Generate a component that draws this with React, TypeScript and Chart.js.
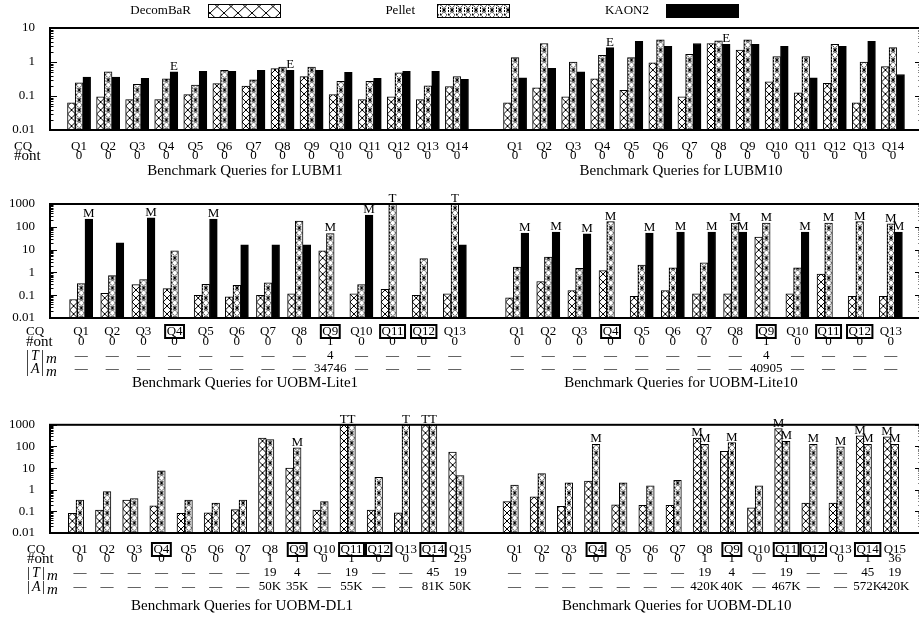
import React, { useEffect, useRef } from 'react';
import { Chart, registerables } from 'chart.js';
Chart.register(...registerables);

const FONT = '"Liberation Serif", "Times New Roman", serif';
const BAR_W = 7.7;

const seriesNames = ['DecomBaR', 'Pellet', 'KAON2'];

// ---------------- Row 1: LUBM1 | LUBM10 ----------------
const lubmQueries = ['Q1', 'Q2', 'Q3', 'Q4', 'Q5', 'Q6', 'Q7', 'Q8', 'Q9', 'Q10', 'Q11', 'Q12', 'Q13', 'Q14'];
const lubmOnt = ['0', '0', '0', '0', '0', '0', '0', '0', '0', '0', '0', '0', '0', '0'];
const lubm1DecomBaR = [0.063, 0.095, 0.079, 0.079, 0.11, 0.23, 0.195, 0.64, 0.37, 0.11, 0.079, 0.095, 0.079, 0.19];
const lubm1Pellet = [0.245, 0.51, 0.22, 0.32, 0.21, 0.57, 0.3, 0.71, 0.71, 0.27, 0.27, 0.48, 0.2, 0.37];
const lubm1Kaon2 = [0.36, 0.36, 0.33, 0.51, 0.53, 0.53, 0.57, 0.57, 0.57, 0.5, 0.33, 0.53, 0.53, 0.31];
const lubm10DecomBaR = [0.063, 0.175, 0.095, 0.32, 0.146, 0.95, 0.095, 3.5, 2.26, 0.26, 0.125, 0.235, 0.063, 0.73];
const lubm10Pellet = [1.34, 3.5, 1.0, 1.57, 1.34, 4.46, 1.68, 4.2, 4.46, 1.44, 1.44, 3.3, 1.0, 2.65];
const lubm10Kaon2 = [0.34, 0.65, 0.51, 2.65, 4.07, 2.9, 3.5, 3.3, 3.3, 2.9, 0.34, 2.9, 4.07, 0.43];
const lubmNoFlags = ['', '', '', '', '', '', '', '', '', '', '', '', '', ''];
const lubmKaon2Flags = ['', '', '', 'E', '', '', '', 'E', '', '', '', '', '', ''];

// ---------------- Row 2: UOBM-Lite1 | UOBM-Lite10 ----------------
const liteQueries = ['Q1', 'Q2', 'Q3', 'Q4', 'Q5', 'Q6', 'Q7', 'Q8', 'Q9', 'Q10', 'Q11', 'Q12', 'Q13'];
const liteBoxed = ['Q4', 'Q9', 'Q11', 'Q12'];
const liteOnt = ['0', '0', '0', '0', '0', '0', '0', '0', '1', '0', '0', '0', '0'];
const liteTm = ['—', '—', '—', '—', '—', '—', '—', '—', '4', '—', '—', '—', '—'];
const lite1Am = ['—', '—', '—', '—', '—', '—', '—', '—', '34746', '—', '—', '—', '—'];
const lite10Am = ['—', '—', '—', '—', '—', '—', '—', '—', '40905', '—', '—', '—', '—'];
const lite1DecomBaR = [0.065, 0.12, 0.29, 0.195, 0.098, 0.085, 0.098, 0.115, 8.9, 0.115, 0.18, 0.098, 0.115];
const lite1Pellet = [0.32, 0.72, 0.49, 8.9, 0.3, 0.27, 0.35, 180, 51, 0.29, 1000, 4, 1000];
const lite1Kaon2 = [220, 20, 245, null, 220, 16, 16, 16, null, 330, null, null, 16];
const lite1DecomBaRFlags = ['', '', '', '', '', '', '', '', '', '', '', '', ''];
const lite1PelletFlags = ['', '', '', '', '', '', '', '', 'M', '', 'T', '', 'T'];
const lite1Kaon2Flags = ['M', '', 'M', '', 'M', '', '', '', '', 'M', '', '', ''];
const lite10DecomBaR = [0.077, 0.4, 0.16, 1.2, 0.09, 0.16, 0.115, 0.115, 35, 0.115, 0.85, 0.09, 0.09];
const lite10Pellet = [1.7, 4.7, 1.5, 170, 2.1, 1.6, 2.6, 145, 145, 1.6, 145, 170, 135];
const lite10Kaon2 = [53, 58, 49, null, 53, 58, 58, 58, null, 58, null, null, 58];
const lite10DecomBaRFlags = ['', '', '', '', '', '', '', '', '', '', '', '', ''];
const lite10PelletFlags = ['', '', '', 'M', '', '', '', 'M', 'M', '', 'M', 'M', 'M'];
const lite10Kaon2Flags = ['M', 'M', 'M', '', 'M', 'M', 'M', 'M', '', 'M', '', '', 'M'];

// ---------------- Row 3: UOBM-DL1 | UOBM-DL10 ----------------
const dlQueries = ['Q1', 'Q2', 'Q3', 'Q4', 'Q5', 'Q6', 'Q7', 'Q8', 'Q9', 'Q10', 'Q11', 'Q12', 'Q13', 'Q14', 'Q15'];
const dlBoxed = ['Q4', 'Q9', 'Q11', 'Q12', 'Q14'];
const dl1Ont = ['0', '0', '0', '0', '0', '0', '0', '1', '1', '0', '1', '0', '0', '1', '29'];
const dl10Ont = ['0', '0', '0', '0', '0', '0', '0', '1', '1', '0', '1', '0', '0', '1', '36'];
const dlTm = ['—', '—', '—', '—', '—', '—', '—', '19', '4', '—', '19', '—', '—', '45', '19'];
const dl1Am = ['—', '—', '—', '—', '—', '—', '—', '50K', '35K', '—', '55K', '—', '—', '81K', '50K'];
const dl10Am = ['—', '—', '—', '—', '—', '—', '—', '420K', '40K', '—', '467K', '—', '—', '572K', '420K'];
const dl1DecomBaR = [0.081, 0.115, 0.33, 0.18, 0.081, 0.086, 0.12, 245, 10, 0.115, 1000, 0.115, 0.086, 1000, 55];
const dl1Pellet = [0.33, 0.81, 0.39, 7.4, 0.33, 0.24, 0.33, 208, 87, 0.28, 1000, 3.7, 1000, 1000, 4.5];
const dl1Kaon2 = [null, null, null, null, null, null, null, null, null, null, null, null, null, null, null];
const dl1DecomBaRFlags = ['', '', '', '', '', '', '', '', '', '', 'T', '', '', 'T', ''];
const dl1PelletFlags = ['', '', '', '', '', '', '', '', 'M', '', 'T', '', 'T', 'T', ''];
const dl10DecomBaR = [0.28, 0.47, 0.17, 2.5, 0.2, 0.19, 0.19, 245, 59, 0.145, 670, 0.24, 0.24, 310, 280];
const dl10Pellet = [1.65, 5.6, 2.1, 126, 2.1, 1.5, 2.7, 126, 150, 1.5, 170, 126, 97, 126, 126];
const dl10Kaon2 = [null, null, null, null, null, null, null, null, null, null, null, null, null, null, null];
const dl10DecomBaRFlags = ['', '', '', '', '', '', '', 'M', '', '', 'M', '', '', 'M', 'M'];
const dl10PelletFlags = ['', '', '', 'M', '', '', '', 'M', 'M', '', 'M', 'M', 'M', 'M', 'M'];
const dlNoFlags = ['', '', '', '', '', '', '', '', '', '', '', '', '', '', ''];

// ---------------- patterns ----------------
function makeTile(w: number, h: number, draw: (c: CanvasRenderingContext2D) => void) {
  const cv = document.createElement('canvas');
  cv.width = w; cv.height = h;
  const c = cv.getContext('2d')!;
  c.fillStyle = '#fff'; c.fillRect(0, 0, w, h);
  c.strokeStyle = '#000'; c.lineWidth = 1;
  draw(c);
  return cv;
}

function makePatterns() {
  const crossTile = makeTile(8, 8, (c) => {
    c.beginPath(); c.moveTo(0, 0); c.lineTo(8, 8); c.moveTo(8, 0); c.lineTo(0, 8); c.stroke();
  });
  const crossLegendTile = makeTile(14, 13, (c) => {
    c.beginPath(); c.moveTo(0, 0); c.lineTo(14, 13); c.moveTo(14, 0); c.lineTo(0, 13); c.stroke();
  });
  const dotsTile = makeTile(8, 10, (c) => {
    c.lineWidth = 1;
    c.setLineDash([1.6, 1]);
    c.beginPath(); c.moveTo(4, 1.6); c.lineTo(7, 5); c.lineTo(4, 8.4); c.lineTo(1, 5); c.closePath(); c.stroke();
    c.setLineDash([2, 1.5]);
    c.beginPath(); c.moveTo(0.5, 0); c.lineTo(0.5, 10); c.stroke();
    c.setLineDash([]);
    c.lineWidth = 1.3;
    c.beginPath();
    for (const yy of [0, 10]) {
      c.moveTo(2.4, yy - 1.6); c.lineTo(5.6, yy + 1.6); c.moveTo(5.6, yy - 1.6); c.lineTo(2.4, yy + 1.6);
    }
    c.stroke();
  });
  const ctx = document.createElement('canvas').getContext('2d')!;
  return {
    crossTile,
    dotsTile,
    crossLegend: ctx.createPattern(crossLegendTile, 'repeat')!,
    dots: ctx.createPattern(dotsTile, 'repeat')!,
  };
}

// pattern aligned with the left edge of each bar and with the x axis baseline
function alignedFill(tile: HTMLCanvasElement, seriesIndex: number, nSeries: number) {
  const pctx = document.createElement('canvas').getContext('2d')!;
  return (c: any) => {
    const pat = pctx.createPattern(tile, 'repeat')!;
    const chart = c.chart;
    const xs = chart.scales && chart.scales.x;
    if (c.type === 'data' && xs && c.parsed && chart.chartArea) {
      const left = xs.getPixelForValue(c.parsed.x) - (nSeries * BAR_W) / 2 + seriesIndex * BAR_W;
      try { pat.setTransform(new DOMMatrix([1, 0, 0, 1, left, chart.chartArea.bottom])); } catch (e) { /* ignore */ }
    }
    return pat;
  };
}

// ---------------- plugins ----------------
const framePlugin = {
  id: 'frame',
  afterDatasetsDraw(chart: any) {
    const { ctx, chartArea: a } = chart;
    const y = chart.scales.y;
    ctx.save();
    ctx.strokeStyle = '#000';
    ctx.lineWidth = 1;
    const lo = Math.round(Math.log10(y.min));
    const hi = Math.round(Math.log10(y.max));
    for (let d = lo; d <= hi; d++) {
      for (let k = 1; k <= 9; k++) {
        const v = k * Math.pow(10, d);
        if (v > y.max * 1.0001) break;
        const p = Math.round(y.getPixelForValue(v)) + 0.5;
        const len = k === 1 ? 7 : 3.5;
        ctx.beginPath();
        ctx.moveTo(a.left, p); ctx.lineTo(a.left + len, p);
        ctx.moveTo(a.right, p); ctx.lineTo(a.right - len, p);
        ctx.stroke();
      }
    }
    ctx.lineWidth = 2;
    ctx.strokeRect(a.left, a.top, a.right - a.left, a.bottom - a.top);
    ctx.restore();
  },
};

const flagPlugin = {
  id: 'flags',
  afterDatasetsDraw(chart: any, _a: any, o: any) {
    if (!o || !o.flags) return;
    const ctx = chart.ctx;
    ctx.save();
    ctx.font = `13px ${FONT}`;
    ctx.fillStyle = '#000';
    ctx.textAlign = 'center';
    ctx.textBaseline = 'alphabetic';
    o.flags.forEach((arr: string[], ds: number) => {
      const meta = chart.getDatasetMeta(ds);
      arr.forEach((f, i) => {
        if (!f) return;
        const el = meta.data[i];
        if (!el || !isFinite(el.y)) return;
        ctx.fillText(f, el.x, el.y - 2);
      });
    });
    ctx.restore();
  },
};

function drawHeader(ctx: CanvasRenderingContext2D, h: string, x: number, y: number) {
  ctx.textAlign = 'left';
  if (h === 'CQ') {
    ctx.font = `13px ${FONT}`; ctx.fillText('CQ', x, y);
  } else if (h === '#ont') {
    ctx.font = `15px ${FONT}`; ctx.fillText('#ont', x, y);
  } else {
    ctx.font = `15px ${FONT}`; ctx.fillText('|', x, y);
    ctx.font = `italic 14px ${FONT}`; ctx.fillText(h, x + 5, y);
    ctx.font = `15px ${FONT}`; ctx.fillText('|', x + 15, y);
    ctx.font = `italic 15px ${FONT}`; ctx.fillText('m', x + 20, y + 3);
  }
}

const tablePlugin = {
  id: 'benchTable',
  afterDraw(chart: any, _a: any, o: any) {
    if (!o || !o.halves) return;
    const ctx = chart.ctx;
    const xs = chart.scales.x;
    ctx.save();
    ctx.fillStyle = '#000';
    ctx.strokeStyle = '#000';
    ctx.textBaseline = 'middle';
    o.headers.forEach((h: string, r: number) => drawHeader(ctx, h, o.headerX, o.rowY[r]));
    for (const h of o.halves) {
      ctx.textAlign = 'center';
      ctx.font = `13px ${FONT}`;
      h.cq.forEach((q: string, i: number) => {
        const px = xs.getPixelForValue(h.start + i);
        ctx.fillText(q, px, o.rowY[0]);
        if (h.boxed.includes(q)) {
          const w = ctx.measureText(q).width;
          ctx.lineWidth = 2;
          ctx.strokeRect(px - w / 2 - 1.5, o.rowY[0] - 7, w + 3, 13);
        }
      });
      h.rows.forEach((row: string[], r: number) => {
        row.forEach((s, i) => {
          ctx.fillText(s, xs.getPixelForValue(h.start + i), o.rowY[r + 1]);
        });
      });
      ctx.font = `15px ${FONT}`;
      const mid = xs.getPixelForValue(h.start + (h.cq.length - 1) / 2) + o.titleShift;
      ctx.fillText(h.title, mid, o.titleY);
    }
    ctx.restore();
  },
};

const legendPlugin = {
  id: 'topLegend',
  afterDraw(chart: any, _a: any, o: any) {
    if (!o || !o.items) return;
    const ctx = chart.ctx;
    ctx.save();
    ctx.font = `13px ${FONT}`;
    ctx.textBaseline = 'middle';
    ctx.textAlign = 'right';
    ctx.strokeStyle = '#000';
    ctx.lineWidth = 1;
    o.items.forEach((it: any) => {
      ctx.fillStyle = '#000';
      ctx.fillText(it.label, it.textRight, 11);
      ctx.fillStyle = it.fill;
      ctx.fillRect(it.boxLeft, 4, 72, 13);
      ctx.strokeRect(it.boxLeft + 0.5, 4.5, 72, 13);
    });
    ctx.restore();
  },
};

// ---------------- chart factory ----------------
function makeRow(canvas: HTMLCanvasElement, s: any, pats: any) {
  const n = s.left.cq.length;
  const combine = (l: (number | null)[], r: (number | null)[]) => [
    ...l.map((v, i) => ({ x: i, y: v })),
    ...r.map((v, i) => ({ x: i + n + 1, y: v })),
  ];
  const fills = [alignedFill(pats.crossTile, 0, 3), alignedFill(pats.dotsTile, 1, 3), '#000'];
  const keys = ['d', 'p', 'k'];
  const datasets = seriesNames.map((name, si) => ({
    label: name,
    data: combine(s.left[keys[si]], s.right[keys[si]]),
    backgroundColor: fills[si],
    borderColor: '#000',
    borderWidth: 1,
    borderSkipped: 'start',
    barThickness: BAR_W,
  }));
  const flags = keys.map((k) => [...s.left[k + 'Flags'], ...s.right[k + 'Flags']]);
  return new Chart(canvas, {
    type: 'bar',
    data: { datasets } as any,
    plugins: [framePlugin, flagPlugin, tablePlugin, legendPlugin],
    options: {
      responsive: false,
      animation: false,
      layout: { padding: s.padding },
      scales: {
        x: { type: 'linear', min: s.xMin, max: s.xMax, offset: false, display: false, grid: { offset: false } },
        y: {
          type: 'logarithmic',
          min: s.yMin,
          max: s.yMax,
          afterFit: (sc: any) => { sc.width = 50; },
          grid: { display: false, drawTicks: false },
          border: { display: false },
          ticks: {
            autoSkip: false,
            padding: 15,
            color: '#000',
            font: { family: FONT, size: 13 },
            callback: (v: any) => {
              const val = Number(v);
              const l = Math.log10(val);
              if (Math.abs(l - Math.round(l)) > 1e-6) return '';
              return val >= 1 ? String(Math.round(val)) : String(Number(val.toPrecision(1)));
            },
          },
        },
      },
      plugins: {
        legend: { display: false },
        tooltip: { enabled: false },
        flags: { flags },
        benchTable: {
          headers: s.headers,
          headerX: s.headerX,
          rowY: s.rowY,
          titleY: s.titleY,
          titleShift: s.titleShift,
          halves: [
            { start: 0, cq: s.left.cq, boxed: s.left.boxed, rows: s.left.rows, title: s.left.title },
            { start: n + 1, cq: s.right.cq, boxed: s.right.boxed, rows: s.right.rows, title: s.right.title },
          ],
        },
        topLegend: s.legend
          ? {
              items: [
                { label: seriesNames[0], textRight: 191, boxLeft: 208, fill: pats.crossLegend },
                { label: seriesNames[1], textRight: 415, boxLeft: 437, fill: pats.dots },
                { label: seriesNames[2], textRight: 649, boxLeft: 666, fill: '#000' },
              ],
            }
          : {},
      } as any,
    },
  } as any);
}

export default function App() {
  const r1 = useRef<HTMLCanvasElement>(null);
  const r2 = useRef<HTMLCanvasElement>(null);
  const r3 = useRef<HTMLCanvasElement>(null);

  useEffect(() => {
    document.body.style.margin = '0';
    document.body.style.overflow = 'hidden';
    const pats = makePatterns();
    const c1 = makeRow(r1.current!, {
      xMin: -1, xMax: 29, yMin: 0.01, yMax: 10,
      padding: { top: 28, left: 0, right: 8, bottom: 50 },
      headers: ['CQ', '#ont'], headerX: 14, rowY: [147, 156], titleY: 171, titleShift: -23, legend: true,
      left: { cq: lubmQueries, boxed: [], rows: [lubmOnt], title: 'Benchmark Queries for LUBM1',
        d: lubm1DecomBaR, p: lubm1Pellet, k: lubm1Kaon2, dFlags: lubmNoFlags, pFlags: lubmNoFlags, kFlags: lubmKaon2Flags },
      right: { cq: lubmQueries, boxed: [], rows: [lubmOnt], title: 'Benchmark Queries for LUBM10',
        d: lubm10DecomBaR, p: lubm10Pellet, k: lubm10Kaon2, dFlags: lubmNoFlags, pFlags: lubmNoFlags, kFlags: lubmKaon2Flags },
    }, pats);
    const c2 = makeRow(r2.current!, {
      xMin: -1, xMax: 27, yMin: 0.01, yMax: 1000,
      padding: { top: 24, left: 0, right: 8, bottom: 84 },
      headers: ['CQ', '#ont', 'T', 'A'], headerX: 26, rowY: [152, 162, 176, 189], titleY: 203, titleShift: -23, legend: false,
      left: { cq: liteQueries, boxed: liteBoxed, rows: [liteOnt, liteTm, lite1Am], title: 'Benchmark Queries for UOBM-Lite1',
        d: lite1DecomBaR, p: lite1Pellet, k: lite1Kaon2, dFlags: lite1DecomBaRFlags, pFlags: lite1PelletFlags, kFlags: lite1Kaon2Flags },
      right: { cq: liteQueries, boxed: liteBoxed, rows: [liteOnt, liteTm, lite10Am], title: 'Benchmark Queries for UOBM-Lite10',
        d: lite10DecomBaR, p: lite10Pellet, k: lite10Kaon2, dFlags: lite10DecomBaRFlags, pFlags: lite10PelletFlags, kFlags: lite10Kaon2Flags },
    }, pats);
    const c3 = makeRow(r3.current!, {
      xMin: -1.1, xMax: 31, yMin: 0.01, yMax: 1000,
      padding: { top: 16, left: 0, right: 8, bottom: 91 },
      headers: ['CQ', '#ont', 'T', 'A'], headerX: 27, rowY: [148, 157, 171, 185], titleY: 204, titleShift: -28, legend: false,
      left: { cq: dlQueries, boxed: dlBoxed, rows: [dl1Ont, dlTm, dl1Am], title: 'Benchmark Queries for UOBM-DL1',
        d: dl1DecomBaR, p: dl1Pellet, k: dl1Kaon2, dFlags: dl1DecomBaRFlags, pFlags: dl1PelletFlags, kFlags: dlNoFlags },
      right: { cq: dlQueries, boxed: dlBoxed, rows: [dl10Ont, dlTm, dl10Am], title: 'Benchmark Queries for UOBM-DL10',
        d: dl10DecomBaR, p: dl10Pellet, k: dl10Kaon2, dFlags: dl10DecomBaRFlags, pFlags: dl10PelletFlags, kFlags: dlNoFlags },
    }, pats);
    return () => { c1.destroy(); c2.destroy(); c3.destroy(); };
  }, []);

  return (
    <div style={{ position: 'relative', width: 919, height: 624, overflow: 'hidden', background: '#fff' }}>
      <canvas ref={r1} width={930} height={180} style={{ position: 'absolute', left: 0, top: 0 }} />
      <canvas ref={r2} width={930} height={222} style={{ position: 'absolute', left: 0, top: 180 }} />
      <canvas ref={r3} width={930} height={222} style={{ position: 'absolute', left: 0, top: 402 }} />
    </div>
  );
}
